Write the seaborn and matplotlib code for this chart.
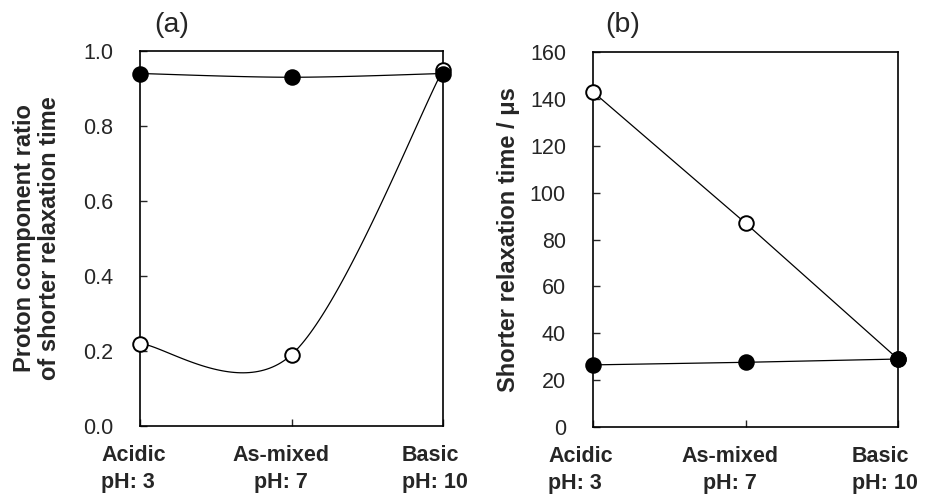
import numpy as np
import pandas as pd
import matplotlib
matplotlib.use("Agg")
import matplotlib.pyplot as plt
import seaborn as sns

# ---- data ----
categories = ["Acidic\npH: 3", "As-mixed\npH: 7", "Basic\npH: 10"]
ratio_filled = [0.94, 0.93, 0.94]
ratio_open = [0.22, 0.19, 0.95]
time_open = [143, 87, 29]
time_filled = [26.5, 27.6, 29.0]

sns.set_theme(style="white")
plt.rcParams["font.family"] = ["Liberation Sans", "DejaVu Sans"]


def excel_smooth(xs, ys, n=60):
    """Excel-style smoothed line (Catmull-Rom as cubic Bezier) through the data points."""
    P = np.column_stack([xs, ys]).astype(float)
    out = []
    for i in range(len(P) - 1):
        p0 = P[i - 1] if i > 0 else P[i]
        p1, p2 = P[i], P[i + 1]
        p3 = P[i + 2] if i + 2 < len(P) else P[i + 1]
        c1 = p1 + (p2 - p0) / 6.0
        c2 = p2 - (p3 - p1) / 6.0
        t = np.linspace(0, 1, n)[:, None]
        seg = ((1 - t) ** 3) * p1 + 3 * ((1 - t) ** 2) * t * c1 + 3 * (1 - t) * t ** 2 * c2 + t ** 3 * p2
        out.append(seg if i == 0 else seg[1:])
    s = np.vstack(out)
    return s[:, 0], s[:, 1]


x = np.arange(len(categories))
fig = plt.figure(figsize=(9.25, 4.95), dpi=100)
axA = fig.add_axes([140 / 925, 1 - 426 / 495, 303 / 925, 375 / 495])
axB = fig.add_axes([593 / 925, 1 - 427 / 495, 305 / 925, 375 / 495])

lw = 0.9
ms = 10.5

# ---- panel (a) ----
for ys in (ratio_open, ratio_filled):
    sx, sy = excel_smooth(x, ys)
    sns.lineplot(x=sx, y=sy, ax=axA, color="black", lw=lw, sort=False, estimator=None)
axA.plot(x, ratio_open, "o", ms=ms, mfc="white", mec="black", mew=1.4, clip_on=False, zorder=5)
axA.plot(x, ratio_filled, "o", ms=ms, mfc="black", mec="black", mew=1.4, clip_on=False, zorder=6)
axA.set_ylim(0, 1.0)
axA.set_yticks([0.0, 0.2, 0.4, 0.6, 0.8, 1.0])
axA.set_yticklabels(["0.0", "0.2", "0.4", "0.6", "0.8", "1.0"])
axA.set_ylabel("Proton component ratio\nof shorter relaxation time", fontsize=17,
               fontweight="bold", linespacing=1.1)
axA.yaxis.set_label_coords(-0.262, 0.5)

# ---- panel (b) ----
sns.lineplot(x=x, y=time_open, ax=axB, color="black", lw=lw)
sns.lineplot(x=x, y=time_filled, ax=axB, color="black", lw=lw)
axB.plot(x, time_open, "o", ms=ms, mfc="white", mec="black", mew=1.4, clip_on=False, zorder=5)
axB.plot(x, time_filled, "o", ms=ms, mfc="black", mec="black", mew=1.4, clip_on=False, zorder=6)
axB.set_ylim(0, 160)
axB.set_yticks(range(0, 161, 20))
axB.set_ylabel("Shorter relaxation time / \u03bcs", fontsize=17, fontweight="bold")
axB.yaxis.set_label_coords(-0.24, 0.5)

# x category labels placed like the reference (px offsets from each tick)
label_offsets = {axA: [(-39, "left"), (-11, "center"), (-41, "left")],
                 axB: [(-45, "left"), (-15.5, "center"), (-46, "left")]}

for ax in (axA, axB):
    ax.set_xlim(0, 2)
    ax.set_xticks(x)
    ax.set_xticklabels([])
    ax.tick_params(axis="x", direction="in", length=5, width=1, bottom=True, top=False)
    ax.tick_params(axis="y", direction="in", length=5, width=1, pad=19.5, labelsize=15.5, left=True, right=False)
    for sp in ax.spines.values():
        sp.set_color("black")
        sp.set_linewidth(1.2)
    ax.set_xlabel("")
    ax.grid(False)
    for xi, lab, (off, ha) in zip(x, categories, label_offsets[ax]):
        ax.annotate(lab, xy=(xi, 0), xycoords=("data", "axes fraction"),
                    xytext=(off * 0.72, -13.5), textcoords="offset points",
                    ha=ha, va="top", multialignment=ha, fontsize=15.5,
                    fontweight="bold", linespacing=1.38, annotation_clip=False)

fig.text(172 / 925, 1 - 25 / 495, "(a)", fontsize=20.5, ha="center", va="center")
fig.text(623 / 925, 1 - 25 / 495, "(b)", fontsize=20.5, ha="center", va="center")

fig.savefig("out.png", dpi=100, facecolor="white")
